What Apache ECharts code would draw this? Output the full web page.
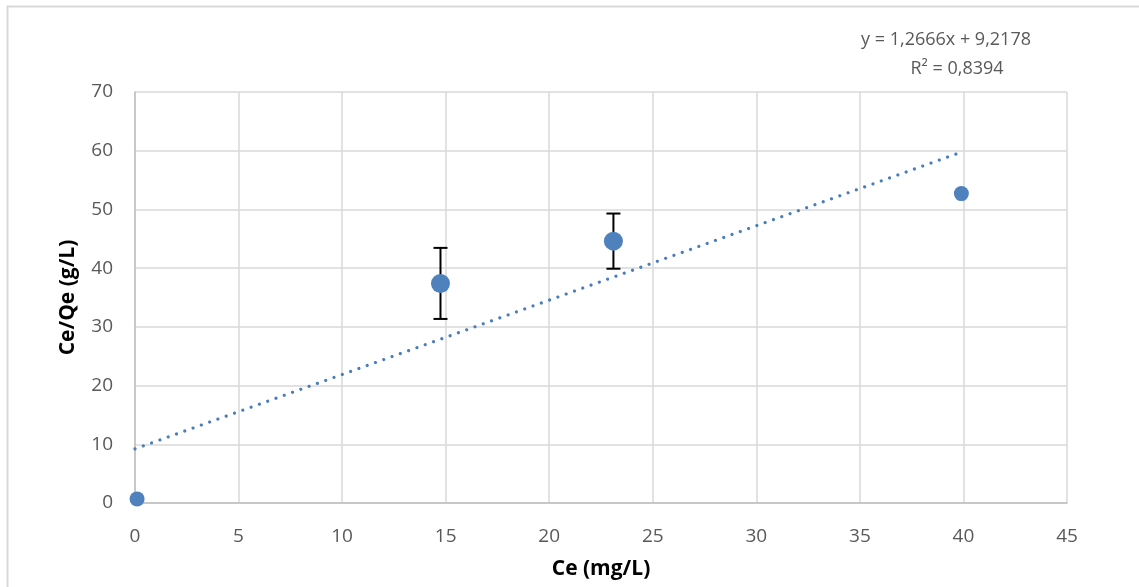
<!DOCTYPE html>
<html><head><meta charset="utf-8">
<script src="https://cdn.jsdelivr.net/npm/echarts@6/dist/echarts.min.js"></script>
<style>html,body{margin:0;padding:0;background:#fff}#c{width:1139px;height:587px}</style>
</head><body><div id="c"></div>
<script>
var ceValues = [0.1, 14.75, 23.1, 39.9];
var ratioValues = [0.7, 37.4, 44.6, 52.7];
var errValues = [0, 6.05, 4.7, 0];
var markerSizes = [15, 19, 19, 15];
var slope = 1.2666, intercept = 9.2178;
var equationText = 'y = 1,2666x + 9,2178';
var r2Text = 'R² = 0,8394';
var trendX = [0, 39.9];
var xTicks = [0,5,10,15,20,25,30,35,40,45];
var yTicks = [0,10,20,30,40,50,60,70];

var pts = ceValues.map(function(x,i){return {value:[x, ratioValues[i]], symbolSize: markerSizes[i]};});
var errData = ceValues.map(function(x,i){return [x, ratioValues[i]-errValues[i], ratioValues[i]+errValues[i]];}).filter(function(d,i){return errValues[i]>0;});
var trend = trendX.map(function(x){return [x, slope*x+intercept];});
var font = "Open Sans";

var chart = echarts.init(document.getElementById('c'));
chart.setOption({
  animation:false,
  graphic:[
    {type:'rect', shape:{x:7.5,y:6.5,width:1200,height:700}, style:{fill:'none',stroke:'#D9D9D9',lineWidth:2}, silent:true},
    {type:'text', x:946, y:40, style:{text:equationText, fontSize:18, fontFamily:font, fill:'#595959', align:'center', verticalAlign:'middle'}},
    {type:'text', x:957, y:69, style:{text:r2Text, fontSize:18, fontFamily:font, fill:'#595959', align:'center', verticalAlign:'middle'}}
  ],
  grid:{left:135, right:72, top:92, bottom:84},
  xAxis:{type:'value', min:0, max:45, interval:5,
    axisLine:{show:true, onZero:false, lineStyle:{color:'#BFBFBF', width:1.5}},
    axisTick:{show:false},
    axisLabel:{color:'#595959', fontSize:19, fontFamily:font, margin:24,
      formatter:function(v){return xTicks.indexOf(v)>=0?String(v):'';}},
    splitLine:{show:true, lineStyle:{color:'#D9D9D9', width:1.5}},
    name:'Ce (mg/L)', nameLocation:'middle', nameGap:56,
    nameTextStyle:{color:'#000', fontSize:21, fontWeight:'bold', fontFamily:font}
  },
  yAxis:{type:'value', min:0, max:70, interval:10,
    axisLine:{show:true, lineStyle:{color:'#BFBFBF', width:1.5}},
    axisTick:{show:false},
    axisLabel:{color:'#595959', fontSize:19, fontFamily:font, margin:22,
      formatter:function(v){return yTicks.indexOf(v)>=0?String(v):'';}},
    splitLine:{show:true, lineStyle:{color:'#D9D9D9', width:1.5}},
    name:'Ce/Qe (g/L)', nameLocation:'middle', nameGap:56,
    nameTextStyle:{color:'#000', fontSize:21, fontWeight:'bold', fontFamily:font}
  },
  series:[
    {type:'line', data:trend, symbol:'none', z:2,
     lineStyle:{color:'#4A7EBB', width:3.2, type:[0.01,8.8], cap:'round'}},
    {type:'custom', z:3, data:errData,
     renderItem:function(params, api){
       var x = api.value(0);
       var lo = api.coord([x, api.value(1)]);
       var hi = api.coord([x, api.value(2)]);
       var cap = 7;
       var st = {stroke:'#000', lineWidth:2};
       return {type:'group', children:[
         {type:'line', shape:{x1:lo[0],y1:lo[1],x2:hi[0],y2:hi[1]}, style:st},
         {type:'line', shape:{x1:lo[0]-cap,y1:lo[1],x2:lo[0]+cap,y2:lo[1]}, style:st},
         {type:'line', shape:{x1:hi[0]-cap,y1:hi[1],x2:hi[0]+cap,y2:hi[1]}, style:st}
       ]};
     }},
    {type:'scatter', data:pts, z:4, itemStyle:{color:'#4F81BD', opacity:1}}
  ]
});
</script></body></html>
